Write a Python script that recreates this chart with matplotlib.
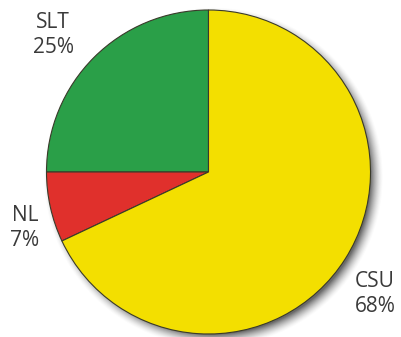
import numpy as np
import matplotlib
matplotlib.use("Agg")
import matplotlib.pyplot as plt

labels = ["SLT", "NL", "CSU"]
shares = [25, 7, 68]
colors = ["#2a9f48", "#e0302c", "#f3df00"]

W, H = 401, 337
fig = plt.figure(figsize=(W / 100, H / 100), dpi=100)
ax = fig.add_axes([0, 0, 1, 1])

cx, cy, r = 208.5, H - 172, 162

# soft drop shadow toward the lower right
yy, xx = np.mgrid[0:H, 0:W]
d = np.hypot(xx + 0.5 - (cx + 5), (H - yy - 0.5) - (cy - 5))
t = np.clip((r + 8 - d) / 13, 0, 1)
a = t ** 1.6 * 0.75
shadow = np.zeros((H, W, 4))
shadow[..., :3] = 0.22
shadow[..., 3] = a
ax.imshow(shadow, extent=(0, W, 0, H), origin="upper", zorder=0)

ax.pie(shares, colors=colors, startangle=90, counterclock=True,
       center=(cx, cy), radius=r, frame=True,
       wedgeprops=dict(edgecolor="#3a3a2a", linewidth=0.8))
ax.set_xlim(0, W)
ax.set_ylim(0, H)
ax.set_aspect("equal")
ax.axis("off")

font = dict(family=["Open Sans", "DejaVu Sans"], fontsize=15, color="#3a3a3a",
            ha="center", va="center", linespacing=1.3)
ax.text(53, H - 35, "SLT\n25%", **font)
ax.text(25, H - 228, "NL\n7%", **font)
ax.text(375, H - 294, "CSU\n68%", **font)

fig.savefig("out.png", dpi=100)
